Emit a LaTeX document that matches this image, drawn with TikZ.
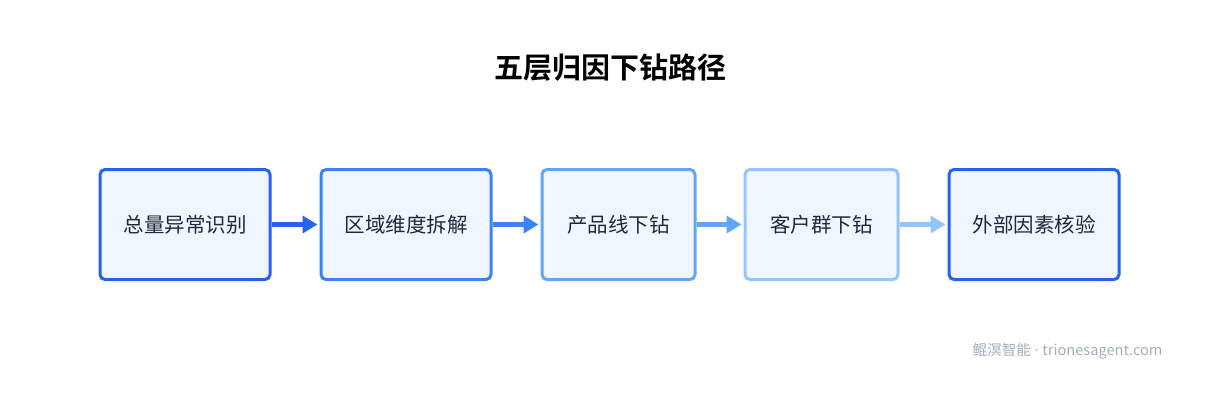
\documentclass[tikz,border=0pt]{standalone}
\usepackage{fontspec}
\setmainfont{Noto Sans CJK SC}
\newfontfamily\cjkbold{Noto Sans CJK SC Bold}
\newfontfamily\latinsans{Noto Sans}
\usetikzlibrary{arrows.meta}
\definecolor{c1}{HTML}{2563EB}
\definecolor{c2}{HTML}{3B82F6}
\definecolor{c3}{HTML}{60A5FA}
\definecolor{c4}{HTML}{93C5FD}
\definecolor{boxfill}{HTML}{EFF6FF}
\definecolor{txt}{HTML}{1E293B}
\definecolor{wm}{HTML}{A0AEC0}
\tikzset{
  stagebox/.style={draw, line width=3pt, rounded corners=5pt, fill=boxfill, minimum height=110pt, text=txt, font=\fontsize{20.5pt}{24pt}\selectfont, inner sep=0pt},
  flow/.style={line width=4.5pt, -{Triangle[length=15pt,width=17pt]}, shorten >=2pt}
}
\begin{document}
\begin{tikzpicture}[x=1pt,y=-1pt]
\useasboundingbox (0,0) rectangle (1220,404);
\fill[white] (0,0) rectangle (1220,404);
\node[font=\cjkbold\fontsize{29pt}{33pt}\selectfont, text=black] (title) at (610,68) {五层归因下钻路径};
\node[stagebox, draw=c1, minimum width=170pt] (b1) at (185,224.5) {总量异常识别};
\node[stagebox, draw=c2, minimum width=170pt] (b2) at (406,224.5) {区域维度拆解};
\node[stagebox, draw=c3, minimum width=153pt] (b3) at (618.5,224.5) {产品线下钻};
\node[stagebox, draw=c4, minimum width=153pt] (b4) at (821.5,224.5) {客户群下钻};
\node[stagebox, draw=c1, minimum width=170pt] (b5) at (1034,224.5) {外部因素核验};
\draw[flow, draw=c1, fill=c1] (b1.east) -- (b2.west);
\draw[flow, draw=c2, fill=c2] (b2.east) -- (b3.west);
\draw[flow, draw=c3, fill=c3] (b3.east) -- (b4.west);
\draw[flow, draw=c4, fill=c4] (b4.east) -- (b5.west);
\node[anchor=east, text=wm, font=\fontsize{14.6pt}{16pt}\selectfont] (wmk) at (1166,351) {鲲溟智能{\latinsans\ ·\ }trionesagent.com};
\end{tikzpicture}
\end{document}
